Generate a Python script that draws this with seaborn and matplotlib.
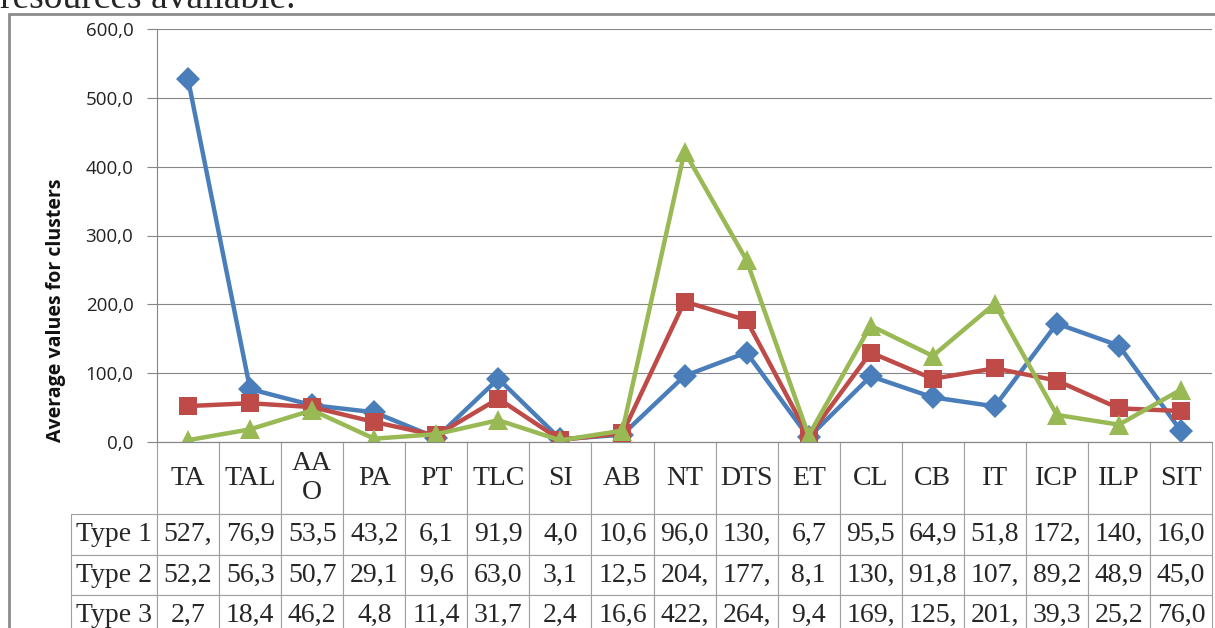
import numpy as np
import pandas as pd
import seaborn as sns
import matplotlib
matplotlib.use('Agg')
from matplotlib import pyplot as plt
from matplotlib.patches import Rectangle
from matplotlib.ticker import FuncFormatter

params = ['TA', 'TAL', 'AAO', 'PA', 'PT', 'TLC', 'SI', 'AB', 'NT', 'DTS',
          'ET', 'CL', 'CB', 'IT', 'ICP', 'ILP', 'SIT']
col_labels = ['TA', 'TAL', 'AA\nO', 'PA', 'PT', 'TLC', 'SI', 'AB', 'NT', 'DTS',
              'ET', 'CL', 'CB', 'IT', 'ICP', 'ILP', 'SIT']
types = ['Type 1', 'Type 2', 'Type 3']
type1 = [527.0, 76.9, 53.5, 43.2, 6.1, 91.9, 4.0, 10.6, 96.0, 130.0, 6.7, 95.5, 64.9, 51.8, 172.0, 140.0, 16.0]
type2 = [52.2, 56.3, 50.7, 29.1, 9.6, 63.0, 3.1, 12.5, 204.0, 177.0, 8.1, 130.0, 91.8, 107.0, 89.2, 48.9, 45.0]
type3 = [2.7, 18.4, 46.2, 4.8, 11.4, 31.7, 2.4, 16.6, 422.0, 264.0, 9.4, 169.0, 125.0, 201.0, 39.3, 25.2, 76.0]
colors = ['#4A7EBB', '#BE4B48', '#98B954']

df = pd.DataFrame({
    'param': params * 3,
    'value': type1 + type2 + type3,
    'type': np.repeat(types, len(params)),
})
df['pos'] = pd.Categorical(df['param'], categories=params).codes

sns.set_style('white')

fig = plt.figure(figsize=(12.15, 6.28), dpi=100)
W, H = 1215, 628
ax = fig.add_axes([157 / W, 1 - 442 / H, 1055 / W, 413 / H])

sns.lineplot(data=df, x='pos', y='value', hue='type', style='type',
             markers=['D', 's', '^'], dashes=False, palette=colors,
             linewidth=3.2, markersize=12, markeredgewidth=0,
             legend=False, sort=False, ax=ax)
for line, ms in zip(ax.lines, [12, 12.5, 14]):
    line.set_markersize(ms)

ax.set_xlim(-0.5, len(params) - 0.5)
ax.set_ylim(0, 600)
ax.set_yticks(range(0, 601, 100))
ax.yaxis.set_major_formatter(FuncFormatter(lambda v, p: f'{v:.1f}'.replace('.', ',')))
ax.set_xticks([])
ax.set_xlabel('')
ax.yaxis.grid(True, color='#868686', linewidth=0.8)
ax.set_axisbelow(True)
for s in ['top', 'right']:
    ax.spines[s].set_visible(False)
for s in ['left', 'bottom']:
    ax.spines[s].set_color('#868686')
    ax.spines[s].set_linewidth(0.8)
ax.tick_params(axis='y', left=True, length=7, color='#868686', width=0.8,
               pad=10, labelsize=13.5, labelcolor='#222222')
for t in ax.get_yticklabels():
    t.set_fontfamily('Open Sans')
ax.set_ylabel('Average values for clusters', fontsize=14, fontweight='bold',
              fontfamily='Open Sans', color='#111111')
ax.yaxis.set_label_coords(-0.086, 0.32)

# data table below the plot; first column holds the row names
fmt = lambda v: f'{v:.1f}'.replace('.', ',')[:4]
cell_text = [[name] + [fmt(v) for v in t] for name, t in zip(types, (type1, type2, type3))]
tbl = ax.table(cellText=cell_text, colLabels=[''] + col_labels,
               cellLoc='center', colLoc='center',
               bbox=[-86 / 1055, -194 / 413, 1141 / 1055, 194 / 413])
tbl.auto_set_font_size(False)
tbl.set_fontsize(20)
for (r, c), cell in tbl.get_celld().items():
    cell.set_edgecolor('#A0A0A0')
    cell.set_linewidth(0.8)
    cell.set_height(73 if r == 0 else 41)
    cell.set_width(86 if c == 0 else 62)
    cell.get_text().set_fontfamily('Liberation Serif')
corner = tbl[0, 0]
corner.set_edgecolor('none')
corner.set_facecolor('none')

# chart-area border and clipped text line above
fig.add_artist(Rectangle((9 / W, -0.1), 1.2, 1.1 - 14 / H, transform=fig.transFigure,
                         fill=False, edgecolor='#8C8C8C', linewidth=2))
fig.text(0, 1 - 8.5 / H, 'resources available.', fontsize=27,
         fontfamily='Liberation Serif', va='baseline', ha='left')

fig.savefig('out.png', dpi=100)
